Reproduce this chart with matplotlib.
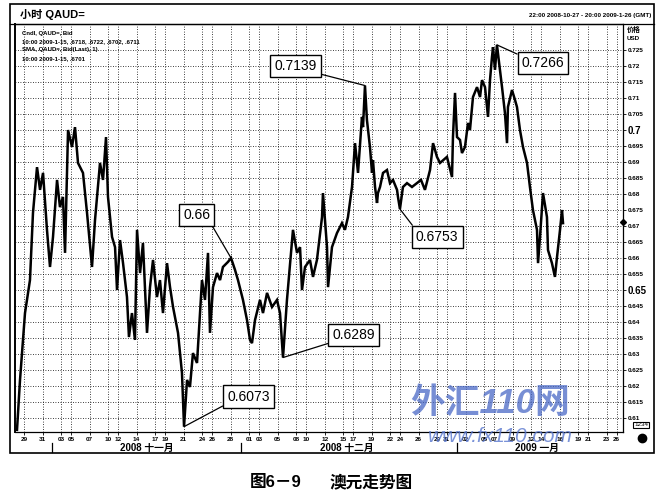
import matplotlib
matplotlib.use('Agg')
import matplotlib.pyplot as plt
import matplotlib.transforms as mtransforms
from matplotlib.patches import Rectangle
from matplotlib.lines import Line2D

plt.rcParams['font.family'] = ['Liberation Sans', 'Noto Sans CJK SC', 'DejaVu Sans']

# ---- data (trading-day index, price) ----
days = [0.00, 0.32, 0.85, 1.38, 1.70, 2.13, 2.45, 2.77, 3.19, 3.51,
        3.83, 4.26, 4.57, 4.89, 5.11, 5.43, 5.85, 6.17, 6.49, 7.02,
        7.45, 7.98, 8.30, 8.83, 9.15, 9.47, 9.68, 10.11, 10.43, 10.64,
        10.96, 11.28, 11.70, 11.91, 12.23, 12.55, 12.77, 13.09, 13.40, 13.83,
        14.15, 14.47, 14.89, 15.21, 15.53, 15.96, 16.28, 16.60, 17.13, 17.55,
        17.77, 18.09, 18.40, 18.72, 19.15, 19.47, 19.68, 20.00, 20.32, 20.53,
        20.85, 21.28, 21.60, 21.91, 22.45, 22.77, 23.19, 23.51, 24.04, 24.47,
        24.79, 25.00, 25.32, 25.85, 26.17, 26.60, 27.13, 27.66, 27.98, 28.30,
        28.72, 29.26, 29.36, 29.79, 30.11, 30.32, 30.64, 31.17, 31.49, 31.91,
        32.45, 32.55, 32.98, 33.09, 33.51, 34.04, 34.57, 34.89, 35.21, 35.64,
        35.96, 36.28, 36.70, 36.81, 37.02, 37.23, 37.55, 37.77, 37.87, 38.09,
        38.30, 38.40, 38.62, 38.94, 39.36, 39.68, 40.00, 40.43, 40.53, 40.74,
        41.06, 41.49, 42.02, 42.55, 42.98, 43.40, 43.94, 44.26, 44.68, 45.00,
        45.74, 46.28, 46.38, 46.60, 46.81, 47.13, 47.34, 47.66, 47.98, 48.19,
        48.51, 48.94, 49.26, 49.47, 49.79, 50.11, 50.32, 50.53, 50.64, 50.85,
        51.06, 51.38, 51.60, 51.91, 52.13, 52.23, 52.66, 52.98, 53.19, 53.51,
        53.83, 54.26, 54.57, 54.89, 55.32, 55.43, 55.64, 55.96, 56.38, 56.49,
        56.91, 57.23, 57.45, 57.77, 57.98, 58.09]

prices = [0.6063, 0.6219, 0.6428, 0.6531, 0.6741, 0.6884, 0.6813, 0.6866, 0.6688, 0.6572,
          0.6666, 0.6844, 0.6759, 0.6791, 0.6616, 0.7000, 0.6947, 0.7009, 0.6897, 0.6866,
          0.6741, 0.6572, 0.6719, 0.6897, 0.6844, 0.6978, 0.6791, 0.6666, 0.6634, 0.6500,
          0.6656, 0.6584, 0.6478, 0.6353, 0.6428, 0.6344, 0.6688, 0.6553, 0.6647, 0.6366,
          0.6509, 0.6594, 0.6478, 0.6531, 0.6428, 0.6584, 0.6509, 0.6447, 0.6366, 0.6241,
          0.6073, 0.6219, 0.6197, 0.6303, 0.6272, 0.6428, 0.6531, 0.6469, 0.6616, 0.6366,
          0.6509, 0.6553, 0.6531, 0.6572, 0.6588, 0.6600, 0.6563, 0.6531, 0.6469, 0.6406,
          0.6344, 0.6334, 0.6406, 0.6469, 0.6428, 0.6491, 0.6447, 0.6469, 0.6428, 0.6289,
          0.6469, 0.6656, 0.6688, 0.6616, 0.6634, 0.6500, 0.6572, 0.6594, 0.6541, 0.6594,
          0.6728, 0.6803, 0.6634, 0.6509, 0.6634, 0.6678, 0.6709, 0.6688, 0.6728, 0.6822,
          0.6959, 0.6866, 0.7041, 0.7009, 0.7139, 0.7031, 0.6947, 0.6866, 0.6906, 0.6822,
          0.6772, 0.6803, 0.6822, 0.6866, 0.6875, 0.6834, 0.6844, 0.6813, 0.6791, 0.6753,
          0.6822, 0.6834, 0.6822, 0.6834, 0.6844, 0.6813, 0.6875, 0.6959, 0.6916, 0.6897,
          0.6916, 0.6853, 0.6978, 0.7116, 0.6978, 0.6969, 0.6928, 0.6947, 0.7022, 0.7000,
          0.7103, 0.7134, 0.7103, 0.7156, 0.7134, 0.7041, 0.7156, 0.7228, 0.7259, 0.7188,
          0.7266, 0.7188, 0.7134, 0.7053, 0.6959, 0.7072, 0.7125, 0.7094, 0.7072, 0.7000,
          0.6947, 0.6897, 0.6822, 0.6750, 0.6688, 0.6584, 0.6666, 0.6803, 0.6728, 0.6625,
          0.6584, 0.6541, 0.6603, 0.6688, 0.6750, 0.6709]

tick_labels = ['29', '31', '03', '05', '07', '10', '12', '14', '17', '19', '21',
               '24', '26', '28', '01', '03', '05', '08', '10', '12', '15', '17',
               '19', '22', '24', '26', '29', '31', '02', '05', '07', '09', '12',
               '14', '16', '19', '21', '23', '26']
tick_days = [0.73, 2.73, 4.73, 5.73, 7.73, 9.73, 10.73, 12.73, 14.73, 15.73, 17.73,
             19.73, 20.73, 22.73, 24.73, 25.73, 27.73, 29.73, 30.73, 32.73, 34.73, 35.73,
             37.73, 39.73, 40.73, 42.73, 44.73, 45.73, 47.73, 49.73, 50.73, 52.73, 54.73,
             55.73, 57.73, 59.73, 60.73, 62.73, 63.80]

month_labels = ['2008 十一月', '2008 十二月', '2009 一月']
month_centers = [13.8, 35.1, 55.3]
month_bounds = [3.72, 23.83, 46.81]

ann_text = ['0.7139', '0.7266', '0.66', '0.6073', '0.6289', '0.6753']
ann_day = [37.02, 51.06, 22.77, 17.77, 28.30, 40.74]
ann_price = [0.7139, 0.7266, 0.6600, 0.6073, 0.6289, 0.6753]

legend_lines = ['Cndl, QAUD=, Bid',
                '10:00 2009-1-15, .6718, .6722, .6702, .6711',
                'SMA, QAUD=, Bid(Last), 1)',
                '10:00 2009-1-15, .6701']

# ---- figure ----
W, H = 657, 499
fig = plt.figure(figsize=(W / 100, H / 100), dpi=100)
fig.patch.set_facecolor('white')

def fx(x):
    return x / W

def fy(y):
    return 1 - y / H

ax = fig.add_axes([fx(15), fy(432), (623 - 15) / W, (432 - 24) / H])
ax.plot(days, prices, color='black', lw=1.8, solid_joinstyle='miter')

ax.set_xlim(-0.213, 64.47)
ax.set_ylim(0.60563, 0.73313)

yt = [round(0.61 + 0.005 * i, 3) for i in range(24)]
ax.yaxis.tick_right()
ax.set_yticks(yt)
ax.set_yticklabels([f'{v:g}' for v in yt])
for lab, v in zip(ax.get_yticklabels(), yt):
    lab.set_fontsize(7 if v in (0.7, 0.65) else 4.6)
    lab.set_fontweight('bold')
ax.set_xticks(tick_days)
ax.set_xticklabels(tick_labels, fontsize=4.6, fontweight='bold')
ax.tick_params(axis='both', length=2, width=0.6, pad=1.5, direction='out')
ax.grid(True, color='black', linestyle=(0, (1, 2)), linewidth=0.6)
ax.spines['left'].set_linewidth(1.4)
for s in ['right', 'bottom', 'top']:
    ax.spines[s].set_linewidth(0.9)

# current price marker
tr_y = mtransforms.blended_transform_factory(ax.transAxes, ax.transData)
ax.plot([1.0], [0.6711], marker='D', ms=3, color='black', transform=tr_y, clip_on=False)

# month labels and separators
tr_x = mtransforms.blended_transform_factory(ax.transData, ax.transAxes)
for lab, c in zip(month_labels, month_centers):
    ax.text(c, -0.040, lab, transform=tr_x, ha='center', va='center',
            fontsize=7, fontweight='bold')
for b in month_bounds:
    ax.plot([b, b], [-0.027, -0.049], color='black', lw=0.9,
            transform=tr_x, clip_on=False)

# annotations
box_pos = [(29.6, 0.7200), (55.96, 0.7209), (19.1, 0.6734),
           (24.63, 0.6167), (35.8, 0.6359), (44.7, 0.6666)]
rel = [(1, 0), (0, 1), (1, 0), (0, 0), (0, 0), (0, 1)]
for t, d, p, bp, rp in zip(ann_text, ann_day, ann_price, box_pos, rel):
    ax.annotate(t, xy=(d, p), xytext=bp, ha='center', va='center', fontsize=10,
                bbox=dict(boxstyle='square,pad=0.3', fc='white', ec='black', lw=1.0),
                arrowprops=dict(arrowstyle='-', color='black', lw=0.9,
                                relpos=rp, shrinkA=0, shrinkB=0))

# legend text block
for i, line in enumerate(legend_lines):
    fig.text(fx(22), fy(33 + 8.5 * i), line, fontsize=4.3, fontweight='bold',
             va='center', ha='left')

# header and frame
fig.add_artist(Rectangle((fx(10), fy(453)), (654 - 10) / W, (453 - 4) / H,
                         transform=fig.transFigure, fill=False, lw=1.2, ec='black'))
fig.add_artist(Line2D([fx(10), fx(654)], [fy(24), fy(24)], color='black', lw=0.9))
fig.text(fx(20), fy(14), '小时 QAUD=', fontsize=8, fontweight='bold', va='center')
fig.text(fx(651), fy(15), '22:00 2008-10-27 - 20:00 2009-1-26 (GMT)', fontsize=4.5,
         fontweight='bold', ha='right', va='center')
fig.text(fx(627), fy(30), '价格', fontsize=5, fontweight='bold', va='center')
fig.text(fx(627), fy(39), 'USD', fontsize=4.5, fontweight='bold', va='center')
fig.text(fx(641), fy(425), '1234', fontsize=4.5, ha='center', va='center',
         bbox=dict(boxstyle='square,pad=0.15', fc='white', ec='black', lw=0.8))
fig.add_artist(Line2D([fx(642)], [fy(438)], marker='o', ms=6, color='black'))

# watermark
fig.text(fx(410), fy(404), '外汇110网', fontsize=25, fontweight='bold', style='italic',
         color='#4a69c6', alpha=0.75, va='center', ha='left')
fig.text(fx(428), fy(437), 'www.fx110.com', fontsize=15, style='italic',
         color='#5a78cf', alpha=0.8, va='center', ha='left')

# caption
fig.text(fx(250), fy(482), '图6－9', fontsize=12, fontweight='bold', va='center')
fig.text(fx(330), fy(482), '澳元走势图', fontsize=12, fontweight='bold', va='center')

fig.savefig('out.png', dpi=100)
